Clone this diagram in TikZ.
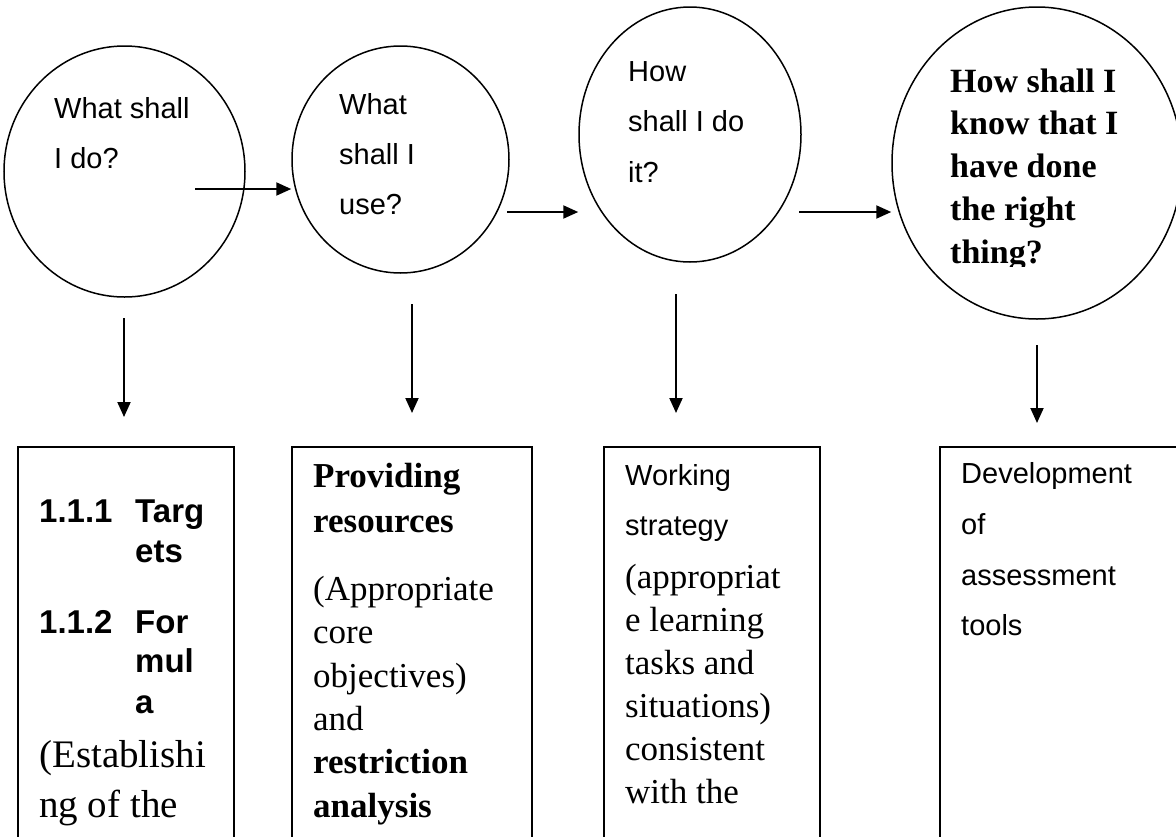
\documentclass[tikz,border=0pt]{standalone}
\usepackage{fontspec}
\setmainfont{Liberation Serif}
\setsansfont{Liberation Sans}
\usetikzlibrary{arrows.meta,shapes.geometric}
\tikzset{
  ell/.style={draw, line width=1.5pt, ellipse, inner sep=0pt},
  bx/.style={draw, line width=1.5pt, rectangle, inner sep=0pt},
  arr/.style={line width=2pt, -{Triangle[length=15pt,width=13pt]}},
  ln/.style={anchor=base west, inner sep=0pt},
  qs/.style={ln, font=\sffamily\fontsize{29}{35}\selectfont},
  qb/.style={ln, font=\bfseries\fontsize{34}{40}\selectfont},
  nb/.style={ln, font=\sffamily\bfseries\fontsize{33}{40}\selectfont},
  sr/.style={ln, font=\fontsize{35}{42}\selectfont},
  srb/.style={ln, font=\bfseries\fontsize{35}{42}\selectfont},
  srl/.style={ln, font=\fontsize{39}{46}\selectfont},
}
\begin{document}
\begin{tikzpicture}[x=1pt,y=-1pt]
\clip (0,0) rectangle (1176,836);
% circles
\node[ell, minimum width=241pt, minimum height=251pt] (c1) at (124.5,171.5) {};
\node[ell, minimum width=217pt, minimum height=227pt] (c2) at (400.5,159.5) {};
\node[ell, minimum width=222pt, minimum height=255pt] (c3) at (690,134.5) {};
\node[ell, minimum width=290pt, minimum height=312pt] (c4) at (1037,163) {};
% boxes
\node[bx, minimum width=216pt, minimum height=413pt] (b1) at (126,653.5) {};
\node[bx, minimum width=240pt, minimum height=413pt] (b2) at (412,653.5) {};
\node[bx, minimum width=216pt, minimum height=413pt] (b3) at (712,653.5) {};
\node[bx, minimum width=260pt, minimum height=413pt] (b4) at (1070,653.5) {};
% circle texts
\node[qs] (c1l1) at (54,118) {What shall};
\node[qs] (c1l2) at (54,168) {I do?};
\node[qs] (c2l1) at (339,114) {What};
\node[qs] (c2l2) at (339,164) {shall I};
\node[qs] (c2l3) at (339,214) {use?};
\node[qs] (c3l1) at (628,81) {How};
\node[qs] (c3l2) at (628,131.5) {shall I do};
\node[qs] (c3l3) at (628,182) {it?};
\begin{scope}
\clip (880,0) rectangle (1176,266);
\node[qb] (c4l1) at (950,92) {How shall I};
\node[qb] (c4l2) at (950,134.75) {know that I};
\node[qb] (c4l3) at (950,177.5) {have done};
\node[qb] (c4l4) at (950,220.25) {the right};
\node[qb] (c4l5) at (950,263) {thing?};
\end{scope}
% box 1
\node[nb] (n1) at (39,522) {1.1.1};
\node[nb] (n1a) at (135,522) {Targ};
\node[nb] (n1b) at (135,562) {ets};
\node[nb] (n2) at (39,633) {1.1.2};
\node[nb] (n2a) at (135,633) {For};
\node[nb] (n2b) at (135,672) {mul};
\node[nb] (n2c) at (135,713) {a};
\node[srl] (e1) at (39,767) {(Establishi};
\node[srl] (e2) at (39,817) {ng of the};
% box 2
\node[srb] (p1) at (313,487) {Providing};
\node[srb] (p2) at (313,532) {resources};
\node[sr] (p3) at (313,600) {(Appropriate};
\node[sr] (p4) at (313,643) {core};
\node[sr] (p5) at (313,687) {objectives)};
\node[sr] (p6) at (313,730) {and};
\node[srb] (p7) at (313,773) {restriction};
\node[srb] (p8) at (313,817) {analysis};
% box 3
\node[qs] (w1) at (625,485) {Working};
\node[qs] (w2) at (625,535) {strategy};
\node[sr] (w3) at (625,588) {(appropriat};
\node[sr] (w4) at (625,631) {e learning};
\node[sr] (w5) at (625,674) {tasks and};
\node[sr] (w6) at (625,717) {situations)};
\node[sr] (w7) at (625,760) {consistent};
\node[sr] (w8) at (625,803) {with the};
% box 4
\node[qs] (d1) at (961,483) {Development};
\node[qs] (d2) at (961,534) {of};
\node[qs] (d3) at (961,585) {assessment};
\node[qs] (d4) at (961,635) {tools};
% arrow end points
\coordinate (h1s) at (195,189);
\coordinate (h2s) at (507,212);
\coordinate (h3s) at (799,212);
\coordinate (v1s) at (124,318);
\coordinate (v1e) at (124,417);
\coordinate (v2s) at (412,304);
\coordinate (v2e) at (412,413);
\coordinate (v3s) at (676,294);
\coordinate (v3e) at (676,413);
\coordinate (v4s) at (1037,345);
\coordinate (v4e) at (1037,423);
\draw[arr] (h1s) -- (h1s -| c2.west);
\draw[arr] (h2s) -- (h2s -| c3.west);
\draw[arr] (h3s) -- (h3s -| c4.west);
\draw[arr] (v1s) -- (v1e);
\draw[arr] (v2s) -- (v2e);
\draw[arr] (v3s) -- (v3e);
\draw[arr] (v4s) -- (v4e);
\end{tikzpicture}
\end{document}
